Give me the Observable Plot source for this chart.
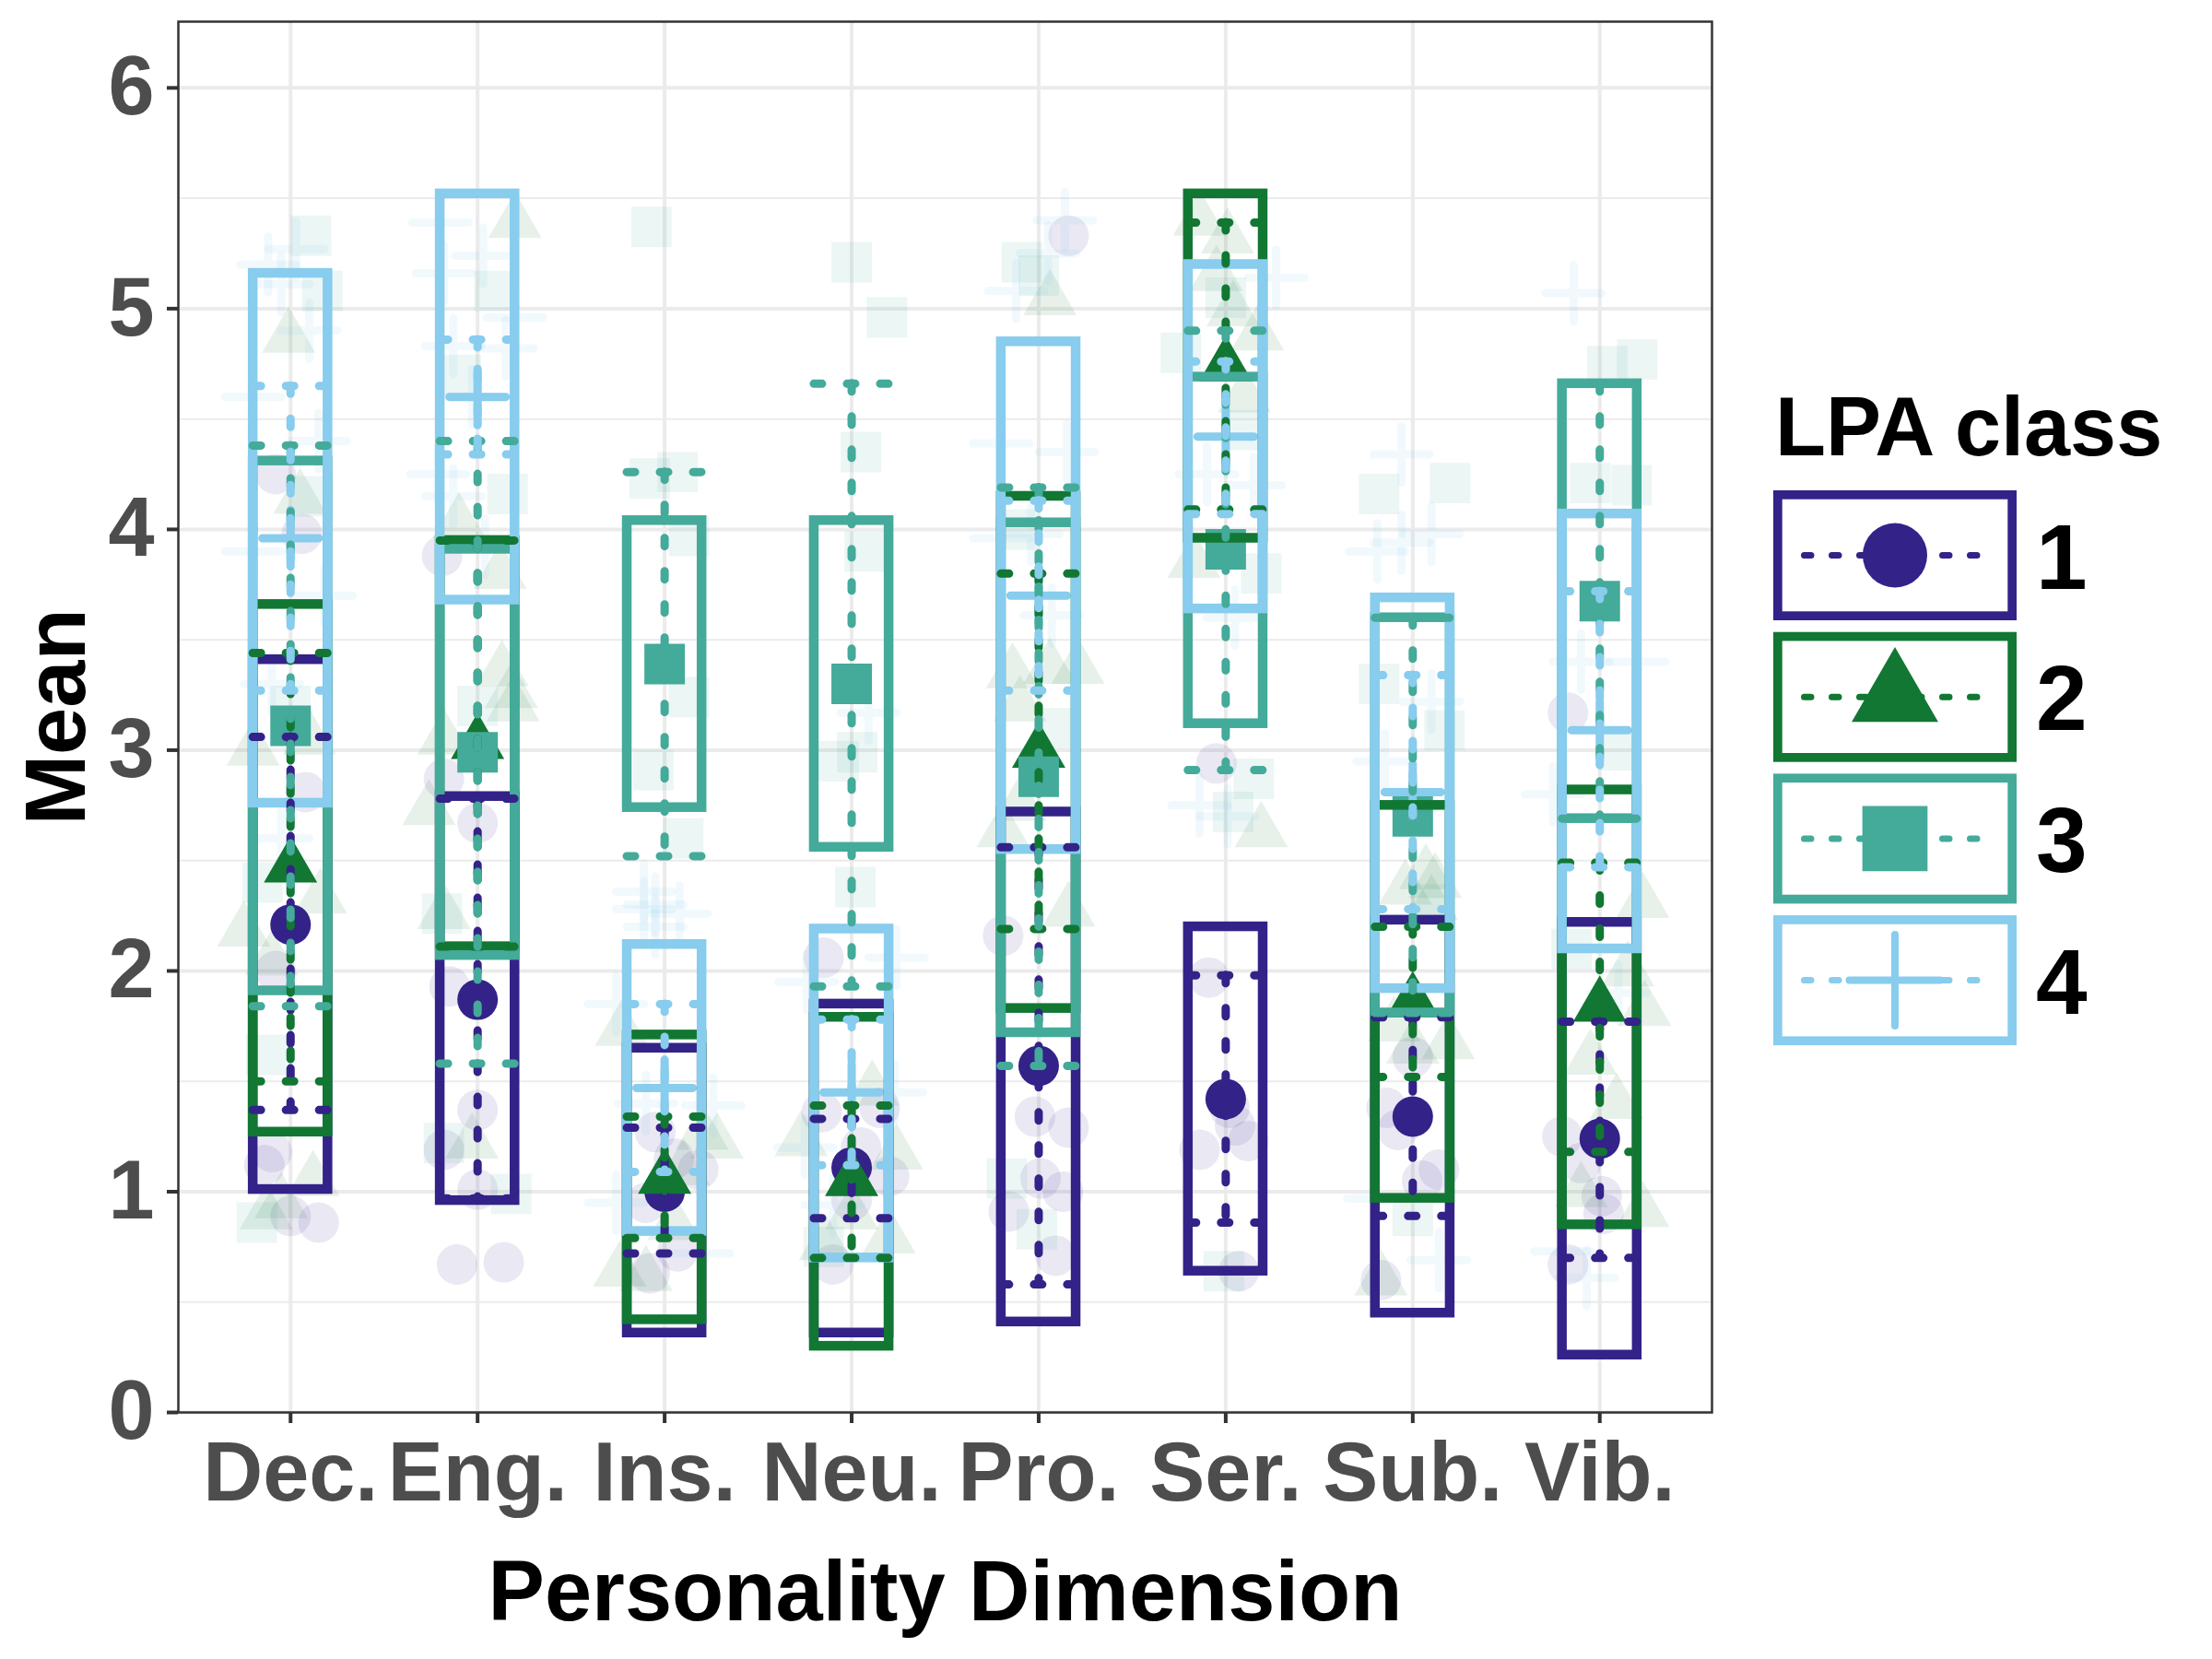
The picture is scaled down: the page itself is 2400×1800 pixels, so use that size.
<!DOCTYPE html>
<html>
<head>
<meta charset="utf-8">
<script src="https://cdn.jsdelivr.net/npm/d3@7"></script>
<script src="https://cdn.jsdelivr.net/npm/@observablehq/plot@0.6"></script>
<style>
html, body { margin: 0; padding: 0; background: #fff; width: 2400px; height: 1800px; overflow: hidden; }
#wrap { position: relative; width: 2400px; height: 1800px; }
</style>
</head>
<body>
<div id="wrap"></div>
<script>
// ---------------- DATA ----------------
const dimensions = ["Dec.", "Eng.", "Ins.", "Neu.", "Pro.", "Ser.", "Sub.", "Vib."];
const classIds = ["1", "2", "3", "4"];
const yTicks = [0, 1, 2, 3, 4, 5, 6];

// Class 1
const mean1  = [2.21, 1.87, 1.00, 1.11, 1.57, 1.42, 1.34, 1.24];
const boxLo1 = [1.01, 0.96, 0.36, 0.36, 0.41, 0.64, 0.45, 0.26];
const boxHi1 = [3.41, 2.79, 1.65, 1.85, 2.72, 2.20, 2.23, 2.22];
const errLo1 = [1.37, 0.97, 0.72, 0.88, 0.58, 0.86, 0.89, 0.70];
const errHi1 = [3.06, 2.78, 1.29, 1.33, 2.56, 1.98, 1.79, 1.77];
// Class 2
const mean2  = [2.47, 3.03, 1.06, 1.05, 2.99, 4.74, 1.86, 1.84];
const boxLo2 = [1.27, 2.11, 0.42, 0.30, 1.83, 3.96, 0.97, 0.85];
const boxHi2 = [3.66, 3.95, 1.71, 1.79, 4.15, 5.52, 2.75, 2.82];
const errLo2 = [1.50, 2.11, 0.79, 0.70, 2.19, 4.09, 1.52, 1.18];
const errHi2 = [3.44, 3.95, 1.34, 1.39, 3.80, 5.39, 2.20, 2.49];
// Class 3
const mean3  = [3.11, 2.99, 3.39, 3.30, 2.88, 3.91, 2.70, 3.675];
const boxLo3 = [1.91, 2.07, 2.74, 2.56, 1.72, 3.12, 1.81, 2.69];
const boxHi3 = [4.31, 3.91, 4.04, 4.04, 4.03, 4.69, 3.60, 4.66];
const errLo3 = [1.84, 1.58, 2.52, 1.93, 1.57, 2.91, 1.81, 2.69];
const errHi3 = [4.38, 4.40, 4.26, 4.66, 4.19, 4.90, 3.60, 4.66];
// Class 4
const mean4  = [3.96, 4.60, 1.47, 1.45, 3.70, 4.42, 2.81, 3.09];
const boxLo4 = [2.76, 3.68, 0.82, 0.70, 2.55, 3.64, 1.92, 2.10];
const boxHi4 = [5.16, 5.52, 2.12, 2.19, 4.85, 5.20, 3.69, 4.07];
const errLo4 = [3.27, 4.34, 1.09, 1.12, 3.27, 4.07, 2.28, 2.47];
const errHi4 = [4.65, 4.86, 1.85, 1.78, 4.13, 4.76, 3.34, 3.72];

// Individual (faint) observations: [dimension index, horizontal jitter, value]
const jitter1 = [
  [0,0.15,0.86],[0,0.0,0.89],[0,-0.14,1.12],[0,-0.1,1.18],[0,-0.08,2.0],[0,0.08,2.81],[0,0.06,3.98],[0,-0.08,4.25],
  [1,-0.18,2.87],[1,0,2.67],[1,-0.15,1.93],[1,0,1.37],[1,-0.18,1.19],[1,0,1.01],[1,-0.11,0.67],[1,0.14,0.68],[1,-0.19,3.88],
  [2,-0.05,1.27],[2,0.18,1.10],[2,-0.08,0.63],[2,0.07,0.73],[2,-0.1,0.95],[2,0.05,1.15],
  [3,-0.15,2.06],[3,-0.16,1.36],[3,0.15,1.38],[3,0,0.96],[3,0.2,1.07],[3,-0.1,0.67],[3,0.05,1.2],
  [4,0.16,5.33],[4,-0.19,2.16],[4,-0.02,1.34],[4,0.16,1.29],[4,0.01,1.06],[4,0.13,1.0],[4,-0.16,0.91],[4,0.09,0.71],
  [5,-0.09,1.97],[5,0.02,1.38],[5,-0.14,1.19],[5,0.12,1.23],[5,0.07,0.64],[5,-0.05,2.94],[5,0.05,1.3],
  [6,-0.14,1.38],[6,0,1.61],[6,0.14,1.10],[6,0.05,1.05],[6,-0.17,0.60],[6,-0.08,1.28],
  [7,-0.2,1.25],[7,0.01,0.98],[7,0.02,0.90],[7,-0.17,0.67],[7,-0.1,1.13],[7,-0.17,3.17]
];
const jitter2 = [
  [0,-0.01,4.87],[0,0.05,4.14],[0,-0.25,2.18],[0,0.16,2.33],[0,-0.13,0.90],[0,-0.2,3.0],[0,-0.1,2.05],[0,0.12,1.05],[0,0.1,3.05],[0,-0.05,0.95],
  [1,-0.18,3.05],[1,-0.26,2.73],[1,0.19,3.2],[1,-0.18,2.26],[1,-0.03,1.22],[1,-0.1,4.03],[1,0.12,3.80],[1,0.13,3.36],[1,0.18,3.26],[1,0.2,5.39],
  [2,-0.23,1.73],[2,0.2,1.26],[2,0.28,1.22],[2,-0.24,0.64],[2,-0.1,0.62],[2,0.05,0.85],[2,0.1,1.1],
  [3,0.11,1.46],[3,-0.27,1.23],[3,0.24,1.17],[3,-0.14,0.76],[3,0.2,0.79],[3,0.0,0.9],
  [4,0.06,5.04],[4,-0.14,3.35],[4,0.06,3.37],[4,0.21,3.37],[4,-0.1,3.2],[4,-0.19,2.63],[4,0.16,2.27],[4,-0.1,2.75],
  [5,-0.14,5.40],[5,0.01,5.32],[5,0.04,4.99],[5,0.17,4.88],[5,-0.17,3.85],[5,0.19,2.63],[5,-0.05,5.15],[5,0.1,4.6],
  [6,0.07,2.44],[6,0.12,2.40],[6,-0.04,2.37],[6,0.19,1.67],[6,0,1.65],[6,-0.17,0.60],[6,-0.1,1.75],[6,0.1,2.3],
  [7,0.23,2.31],[7,0.24,1.82],[7,0.09,1.40],[7,0.23,0.91],[7,-0.1,1.0],[7,0.15,2.0],[7,-0.05,1.6]
];
const jitter3 = [
  [0,0.11,5.33],[0,0.17,5.08],[0,0.12,4.15],[0,-0.18,0.86],[0,-0.13,1.62],[0,0.0,3.2],[0,-0.15,2.4],
  [1,0.09,5.08],[1,-0.09,4.70],[1,0.16,4.16],[1,0,3.20],[1,-0.19,2.26],[1,-0.18,1.22],[1,0.18,0.99],
  [2,-0.07,5.37],[2,-0.08,4.23],[2,0.07,4.26],[2,0.13,3.97],[2,0.13,3.24],[2,-0.06,2.91],[2,0.1,2.60],
  [3,0.0,5.21],[3,0.19,4.96],[3,0.05,4.35],[3,0.07,3.90],[3,0.03,2.99],[3,-0.07,2.95],[3,0.02,2.38],[3,-0.15,0.75],
  [4,-0.09,5.21],[4,0.0,5.15],[4,-0.17,1.06],[4,-0.01,0.83],[4,0.1,3.1],[4,-0.12,4.0],
  [5,-0.24,4.80],[5,0.19,3.80],[5,0.15,2.87],[5,0.04,2.72],[5,-0.01,0.64],[5,0.0,5.05],[5,0.1,4.45],
  [6,-0.18,4.16],[6,0.2,4.21],[6,-0.18,3.30],[6,0.17,3.09],[6,0,0.89],[6,0.1,2.3],
  [7,0.2,4.77],[7,0.04,4.74],[7,0.17,4.20],[7,-0.05,4.21],[7,0.1,3.0],[7,-0.15,2.1]
];
const jitter4 = [
  [0,0.03,5.27],[0,-0.05,5.11],[0,0.1,4.9],[0,-0.2,4.6],[0,-0.12,5.2],[0,0.15,4.4],[0,-0.1,3.3],[0,-0.05,2.6],[0,-0.2,3.9],[0,0.18,3.7],
  [1,-0.2,5.39],[1,0.03,5.24],[1,-0.18,5.16],[1,0.2,4.96],[1,-0.13,4.83],[1,0.15,4.82],[1,-0.03,4.60],[1,-0.21,4.25],[1,-0.13,4.15],[1,0.04,3.92],
  [2,-0.11,2.36],[2,-0.05,2.3],[2,-0.11,2.28],[2,-0.05,2.2],[2,0.08,2.26],[2,-0.26,1.85],[2,-0.1,1.40],[2,0.26,1.39],[2,-0.26,0.95],[2,0.2,0.72],
  [3,0.09,3.17],[3,-0.24,1.95],[3,0.24,2.06],[3,-0.1,0.94],[3,0.23,1.45],[3,-0.25,1.2],
  [4,0.14,5.40],[4,-0.12,5.08],[4,0.05,5.25],[4,-0.2,4.39],[4,0.15,4.35],[4,-0.04,3.98],[4,-0.2,3.96],[4,0.07,3.61],
  [5,0.27,5.14],[5,0.15,4.2],[5,-0.1,4.25],[5,-0.14,2.75],[5,0.01,2.7],[5,0.05,3.6],
  [6,-0.06,4.34],[6,-0.19,3.90],[6,-0.06,3.94],[6,0.1,3.98],[6,0.1,3.22],[6,-0.15,2.95],[6,0.14,0.69],[6,-0.2,0.97],
  [7,-0.14,5.07],[7,-0.1,3.4],[7,0.2,3.4],[7,-0.25,2.8],[7,-0.07,0.61],[7,-0.2,0.73],[7,0.1,1.9]
];

// ---------------- STYLE ----------------
const classColors = ["#332288", "#117733", "#44AA99", "#88CCEE"];
const classSymbols = ["circle", "triangle", "square", "plus"];
const symbolR = [22, 21.5, 24.8, 19.7];
const legendSize = [Math.PI * 35 * 35, 3818, 5000, 3198];
const FONT = "'Liberation Sans', Arial, Helvetica, sans-serif";
const HALF = 0.2; // half width of boxes / caps in category units

const series = [
  {mean: mean1, lo: boxLo1, hi: boxHi1, elo: errLo1, ehi: errHi1, jit: jitter1},
  {mean: mean2, lo: boxLo2, hi: boxHi2, elo: errLo2, ehi: errHi2, jit: jitter2},
  {mean: mean3, lo: boxLo3, hi: boxHi3, elo: errLo3, ehi: errHi3, jit: jitter3},
  {mean: mean4, lo: boxLo4, hi: boxHi4, elo: errLo4, ehi: errHi4, jit: jitter4}
];
const tables = series.map((s) => dimensions.map((d, j) => ({
  i: j + 1, dim: d, mean: s.mean[j], lo: s.lo[j], hi: s.hi[j], elo: s.elo[j], ehi: s.ehi[j]
})));
const jitRows = series.map((s) => s.jit.map(([j, dx, v]) => ({xj: j + 1 + dx, v})));

function dotOpts(k, faint) {
  const base = {symbol: classSymbols[k], r: symbolR[k]};
  if (classSymbols[k] === "plus") {
    return {...base, fill: "none", stroke: classColors[k], strokeWidth: 9, strokeLinecap: "round",
      strokeOpacity: faint ? 0.12 : 1};
  }
  return {...base, fill: classColors[k], stroke: "none", fillOpacity: faint ? 0.1 : 1};
}

const marks = [
  Plot.gridY({ticks: d3.range(0.5, 6, 1), stroke: "#EBEBEB", strokeOpacity: 1, strokeWidth: 2}),
  Plot.gridY({ticks: yTicks, stroke: "#EBEBEB", strokeOpacity: 1, strokeWidth: 4}),
  Plot.gridX({ticks: d3.range(1, dimensions.length + 1), stroke: "#EBEBEB", strokeOpacity: 1, strokeWidth: 4})
];
// faint individual points
classIds.forEach((c, k) => marks.push(Plot.dot(jitRows[k], {x: "xj", y: "v", ...dotOpts(k, true)})));
// class means
classIds.forEach((c, k) => marks.push(Plot.dot(tables[k], {x: "i", y: "mean", ...dotOpts(k, false)})));
// boxes
classIds.forEach((c, k) => marks.push(Plot.rect(tables[k], {
  x1: (d) => d.i - HALF, x2: (d) => d.i + HALF, y1: "lo", y2: "hi",
  fill: "none", stroke: classColors[k], strokeWidth: 10.5
})));
// error bars (dotted)
const dash = {strokeWidth: 9, strokeDasharray: "9 27", strokeLinecap: "round"};
classIds.forEach((c, k) => {
  marks.push(Plot.ruleY(tables[k], {y: "ehi", x1: (d) => d.i - HALF, x2: (d) => d.i + HALF, stroke: classColors[k], ...dash}));
  marks.push(Plot.ruleX(tables[k], {x: "i", y1: "ehi", y2: "elo", stroke: classColors[k], ...dash}));
  marks.push(Plot.ruleY(tables[k], {y: "elo", x1: (d) => d.i - HALF, x2: (d) => d.i + HALF, stroke: classColors[k], ...dash}));
});
marks.push(
  Plot.frame({stroke: "#333333", strokeWidth: 2.5}),
  Plot.axisY({ticks: yTicks, tickFormat: d3.format("d"), tickSize: 12, tickPadding: 14, fontSize: 90, fontWeight: "bold",
    fill: "#4D4D4D", stroke: "#333333", strokeWidth: 4, label: null}),
  Plot.axisX({ticks: d3.range(1, dimensions.length + 1), tickFormat: (d) => dimensions[d - 1],
    tickSize: 12, tickPadding: 20, fontSize: 90, fontWeight: "bold",
    fill: "#4D4D4D", stroke: "#333333", strokeWidth: 4, label: null}),
  Plot.text(["Personality Dimension"], {frameAnchor: "bottom", textAnchor: "middle", lineAnchor: "bottom", dy: 225,
    fontSize: 92, fontWeight: "bold", fill: "black"}),
  Plot.text(["Mean"], {frameAnchor: "left", textAnchor: "middle", lineAnchor: "bottom", rotate: -90, dx: -102,
    fontSize: 92, fontWeight: "bold", fill: "black"})
);

const chart = Plot.plot({
  width: 2400,
  height: 1800,
  marginLeft: 193,
  marginRight: 543,
  marginTop: 23,
  marginBottom: 268,
  x: {type: "linear", domain: [0.4, dimensions.length + 0.6], axis: null},
  y: {type: "linear", domain: [0, 6.3], axis: null},
  style: {background: "white", fontFamily: FONT, overflow: "visible"},
  marks
});
const wrap = document.getElementById("wrap");
wrap.appendChild(chart);

// ---------------- LEGEND ----------------
const OX = 1880, OY = 380;
const lg = d3.create("svg")
  .attr("width", 520).attr("height", 800)
  .style("position", "absolute").style("left", OX + "px").style("top", OY + "px")
  .style("font-family", FONT);
const g = lg.append("g").attr("transform", `translate(${-OX},${-OY})`);
g.append("text").attr("x", 1926).attr("y", 494)
  .attr("font-size", 90).attr("font-weight", "bold").attr("fill", "black").text("LPA class");
const d3Sym = [d3.symbolCircle, d3.symbolTriangle, d3.symbolSquare, d3.symbolPlus];
classIds.forEach((c, k) => {
  const top = 532 + k * 153.7;
  const cy = top + 70.5;
  const col = classColors[k];
  g.append("rect").attr("x", 1928.85).attr("y", top + 4.85).attr("width", 254.3).attr("height", 131.3)
    .attr("fill", "white").attr("stroke", col).attr("stroke-width", 9.7);
  g.append("line").attr("x1", 1957.5).attr("x2", 2158).attr("y1", cy).attr("y2", cy)
    .attr("stroke", col).attr("stroke-width", 7).attr("stroke-dasharray", "7.5 22.5").attr("stroke-linecap", "round");
  const p = g.append("path").attr("transform", `translate(2056,${cy})`)
    .attr("d", d3.symbol(d3Sym[k], legendSize[k])());
  if (classSymbols[k] === "plus") {
    p.attr("fill", "none").attr("stroke", col).attr("stroke-width", 8).attr("stroke-linecap", "round");
  } else {
    p.attr("fill", col);
  }
  g.append("text").attr("x", 2209).attr("y", cy + 36)
    .attr("font-size", 100).attr("font-weight", "bold").attr("fill", "black").text(c);
});
wrap.appendChild(lg.node());
</script>
</body>
</html>
